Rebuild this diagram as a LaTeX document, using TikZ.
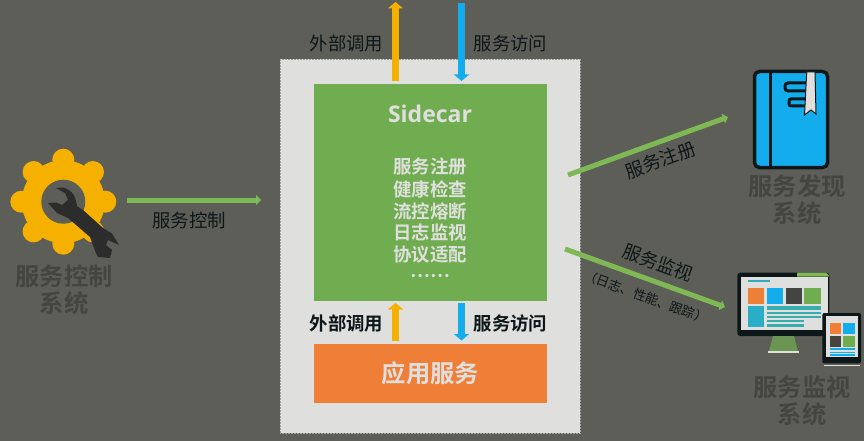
\documentclass[tikz,border=0pt]{standalone}
\usepackage{fontspec}
\setmainfont{Open Sans}
\newfontfamily\cjk{Noto Sans CJK SC}
\newfontfamily\cjkb{Noto Sans CJK SC Bold}
\usetikzlibrary{arrows.meta}
\definecolor{bgc}{HTML}{5E5E58}
\definecolor{panelc}{HTML}{DFDFDD}
\definecolor{greenc}{HTML}{70AD50}
\definecolor{orangec}{HTML}{EF7E37}
\definecolor{yellowc}{HTML}{F5B000}
\definecolor{bluec}{HTML}{13ADEE}
\definecolor{darkc}{HTML}{0D1719}
\definecolor{greyt}{HTML}{45453F}
\definecolor{wrenchc}{HTML}{2C2C2C}
\definecolor{ligreen}{HTML}{7FB955}
\tikzset{
 x=1pt,y=-1pt,
 lab/.style={font=\cjk\fontsize{18.4}{20}\selectfont,text=darkc,inner sep=0pt},
 labb/.style={font=\cjkb\fontsize{18.4}{20}\selectfont,text=darkc,inner sep=0pt},
 sys/.style={font=\cjkb\fontsize{24.3}{27}\selectfont,text=greyt,inner sep=0pt,align=center},
 inner/.style={font=\cjkb\fontsize{18.4}{22}\selectfont,text=panelc,inner sep=0pt},
 box/.style={inner sep=0pt,minimum width=233pt},
 vup/.style={line width=7pt,-{Triangle[length=6.5pt,width=15pt]},draw=#1},
 thin arrow/.style={line width=5pt,draw=ligreen,-{Triangle[length=5pt,width=10pt]}},
 rr/.style={fill=#1},
}
\newcommand{\rc}[5]{\fill[#1] (#2,#3) rectangle (#4,#5);}
\begin{document}
\begin{tikzpicture}
\useasboundingbox (0,0) rectangle (864,441);
\fill[bgc] (0,0) rectangle (864,441);
% panel
\node[draw=darkc!40,densely dotted,line width=.5pt,fill=panelc,minimum width=300pt,minimum height=374pt,inner sep=0pt] (panel) at (430,246) {};
\node[box,fill=greenc,minimum height=217pt] (green) at (430.5,192.5) {};
\node[box,fill=orangec,minimum height=59pt,font=\cjkb\fontsize{24.3}{26}\selectfont,text=panelc] (app) at (430.5,373.5) {应用服务};
\node[font=\fontsize{23}{26}\selectfont\bfseries,text=panelc,inner sep=0pt] (sc) at (430,114) {Sidecar};
\node[inner] (i1) at (430,167) {服务注册};
\node[inner] (i2) at (430,189) {健康检查};
\node[inner] (i3) at (430,211) {流控熔断};
\node[inner] (i4) at (430,233) {日志监视};
\node[inner] (i5) at (430,255) {协议适配};
\node[inner,font=\cjkb\fontsize{18}{20}\selectfont] (i6) at (430,276) {……};
% vertical arrows
\coordinate (ua) at (395.5,2);
\coordinate (da) at (461.5,3);
\coordinate (ub) at (395.5,81);
\coordinate (db) at (461.5,81);
\draw[vup=yellowc] (ub) -- (ua);
\draw[vup=bluec] (da) -- (db);
\draw[vup=yellowc] (app.north -| ua) ++(0,-3) -- (395.5,303);
\draw[vup=bluec] (green.south -| da) ++(0,2) -- (461.5,340.5);
\node[lab] (l1) at (346.5,44) {外部调用};
\node[lab] (l2) at (510.5,44) {服务访问};
\node[labb] (l3) at (346.5,323) {外部调用};
\node[labb] (l4) at (510.5,323) {服务访问};
% gear
\begin{scope}[shift={(63.3,201.7)}]
\foreach \a in {0,45,...,315}{\fill[yellowc] (\a:42) circle[radius=11];}
\fill[yellowc] (0,0) circle[radius=41.5];
\fill[bgc] (0,0) circle[radius=22];
\end{scope}
\fill[wrenchc] (56,188) -- (62,187.5) .. controls (70,189) and (75,194) .. (76,201) -- (77,206) -- (83,210) -- (103,228) -- (112,233.5) .. controls (115,238) and (117,242) .. (119,245) -- (108,240) -- (106,245) -- (112,250) -- (110,258) -- (98,257) .. controls (95,252) and (93,245) .. (90,237) -- (68,218) -- (57,213) -- (48,203) -- (56,202.5) -- (62,205) -- (68,200) -- (65,193) -- cycle;
\node[sys] (s1) at (64,276) {服务控制};
\node[sys] (s1b) at (64,303) {系统};
\coordinate (ctlS) at (127,200);
\coordinate (ctlE) at (261,200);
\draw[thin arrow] (ctlS) -- (ctlE);
\node[lab] (l5) at (189,221) {服务控制};
% register
\coordinate (regS) at (568,175);
\coordinate (regE) at (728,117);
\draw[thin arrow] (regS) -- (regE);
\node[lab,rotate=20] (l6) at (660.5,160) {服务注册};
% monitor arrow
\coordinate (monS) at (565,249);
\coordinate (monE) at (725,307);
\draw[thin arrow] (monS) -- (monE);
\node[lab,rotate=-20] (l7) at (658,263) {服务监视};
\node[lab,rotate=-20,font=\cjk\fontsize{13}{14}\selectfont] (l8) at (646,297) {（日志、性能、跟踪）};
% book
\draw[rr=bluec,draw=darkc,line width=3.5pt,rounded corners=5pt] (754.5,71.5) rectangle (827.5,167.5);
\fill[darkc] (768.5,70) rectangle (772.3,169);
\draw[darkc,line width=3pt,fill=bluec,rounded corners=3pt] (785,83) rectangle (812,91);
\draw[darkc,line width=3pt,fill=bluec,rounded corners=2pt] (789,99) rectangle (812,106);
\draw[fill=panelc,draw=darkc,line width=1pt] (806.7,72) -- (815,72) -- (816,114) -- (811,110) -- (804.5,115) -- cycle;
\node[sys] (s2) at (797,186) {服务发现};
\node[sys] (s2b) at (797,213) {系统};
% monitor
\fill[darkc,rounded corners=3pt] (737.3,272.7) rectangle (829.3,336);
\fill[ligreen] (797,272.7) -- (826,272.7) -- (829.3,276) -- (827.7,276.7) -- (797,276.7) -- cycle;
\rc{panelc}{740.7}{276.7}{827.7}{330}
\rc{bluec!70!greenc}{748}{280}{770}{282}
\rc{orangec}{748}{288}{764}{304}
\rc{bluec}{767}{288}{783}{304}
\rc{greyt}{785.7}{288}{801.7}{304}
\rc{greenc}{803.7}{288}{820.7}{304}
\rc{bluec!75!greenc}{748}{306}{764}{327.3}
\rc{bluec!60!greenc}{767}{306}{820.7}{310}
\rc{bluec!60!greenc}{767}{311.7}{820.7}{314}
\rc{bluec!60!greenc}{767}{316}{820.7}{318}
\rc{bluec!60!greenc}{767}{320}{804}{322}
\rc{bluec!60!greenc}{767}{324.3}{804}{326.7}
\fill[greenc!70!bgc] (773,336) -- (794,336) -- (798,351) -- (769,351) -- cycle;
\rc{panelc}{768}{351}{799}{352.5}
% tablet
\fill[darkc,rounded corners=2pt] (822.3,313) rectangle (861,363.3);
\rc{panelc}{826}{316}{858.3}{357.3}
\rc{orangec}{830}{323}{841}{334}
\rc{bluec}{843}{323}{855}{334}
\rc{greyt}{830}{336}{841}{346.7}
\rc{greenc}{843}{336}{855}{346.7}
\rc{bluec}{830}{348}{855}{349.7}
\rc{bluec}{830}{351.7}{855}{353.3}
\rc{bluec}{830}{354.3}{855}{356}
\rc{panelc}{824.3}{365}{860}{366.3}
\node[sys] (s3) at (802,387) {服务监视};
\node[sys] (s3b) at (802,414) {系统};
\end{tikzpicture}
\end{document}
